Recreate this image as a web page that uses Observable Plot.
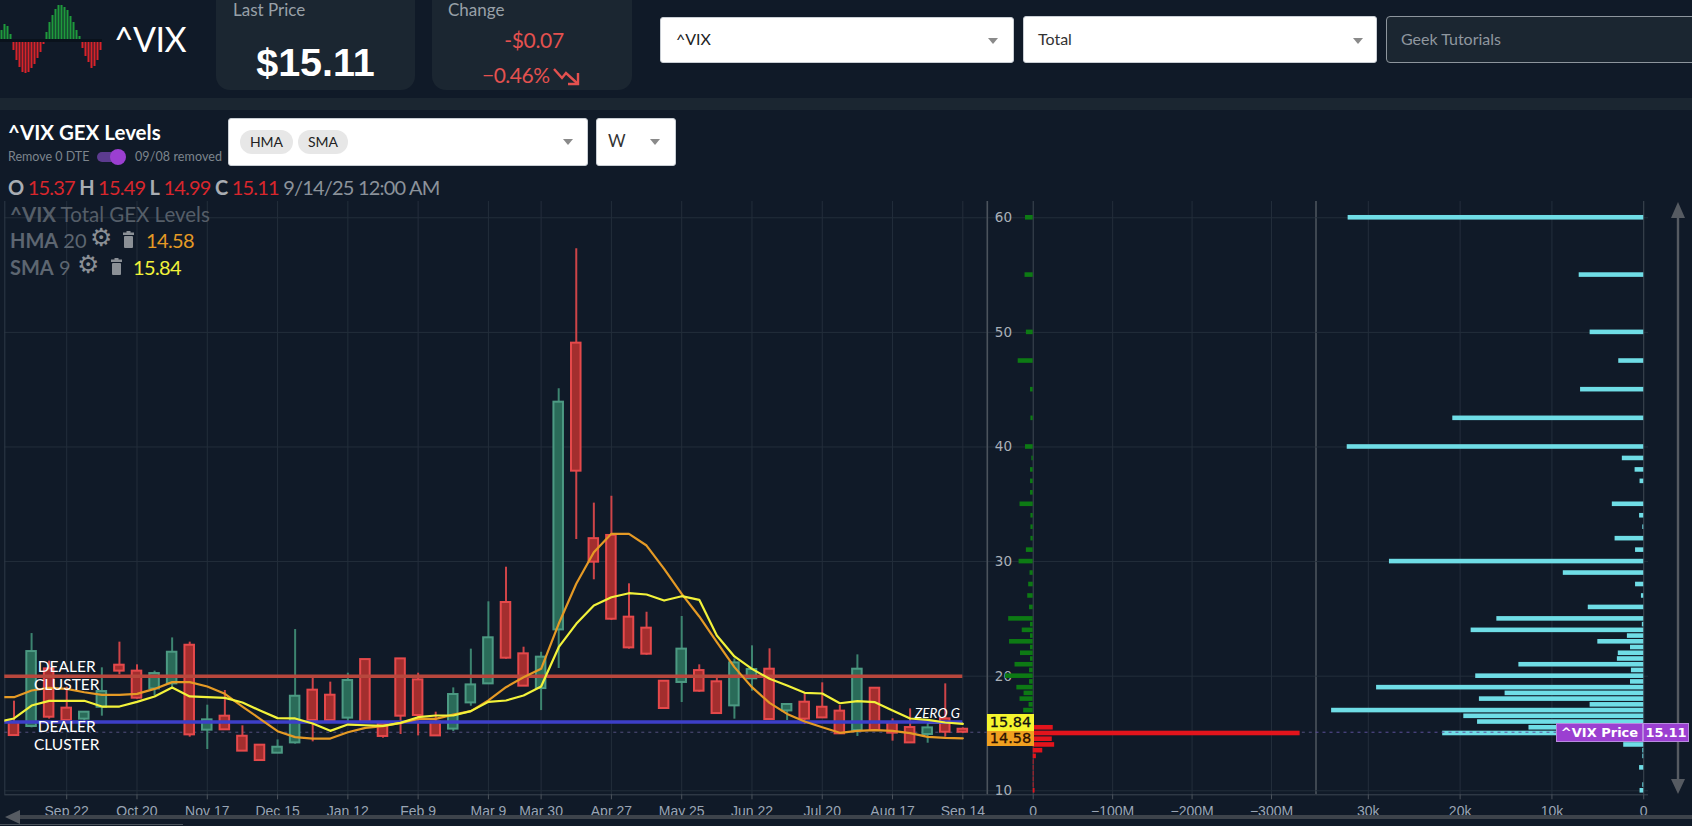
<!DOCTYPE html>
<html>
<head>
<meta charset="utf-8">
<script src="https://cdn.jsdelivr.net/npm/d3@7"></script>
<script src="https://cdn.jsdelivr.net/npm/@observablehq/plot@0.6"></script>
<style>
html,body{margin:0;padding:0;background:#101a28;width:1692px;height:826px;overflow:hidden;font-family:Lato,sans-serif;}
#stage{position:relative;width:1692px;height:826px;overflow:hidden;background:#101a28;}
.a{position:absolute;white-space:nowrap;}
.card{background:#1b2631;border-radius:0 0 14px 14px;}
.sel{background:#fff;border-radius:3px;border:1px solid #c9ced4;box-sizing:border-box;color:#222;}
.tri{position:absolute;width:0;height:0;border-left:5px solid transparent;border-right:5px solid transparent;border-top:6px solid #8a8a8a;}
.pill{position:absolute;background:#e7e7e7;border-radius:12px;color:#222;font-size:14px;text-align:center;}
.chart{position:absolute;top:190px;}
.chart svg{display:block;overflow:visible;}
.ohlcL{color:#a9adb3;font-weight:700;}
.ohlcV{color:#d8262c;}
.badge{position:absolute;font-family:"DejaVu Sans",sans-serif;text-align:center;box-sizing:border-box;}
</style>
</head>
<body>
<div id="stage"></div>
<script>
// ---- chart data ----
const firstWeek = "2024-08-25";
const xTickDates = ["2024-09-22","2024-10-20","2024-11-17","2024-12-15","2025-01-12","2025-02-09","2025-03-09","2025-03-30","2025-04-27","2025-05-25","2025-06-22","2025-07-20","2025-08-17","2025-09-14"];
const opens  = [15.96,15.61,20.64,17.21,16.25,17.29,20.96,20.44,18.89,19.33,22.7,15.29,16.51,14.76,13.98,13.28,14.18,18.78,18.34,16.34,21.45,15.84,21.51,19.68,15.99,15.38,17.67,19.33,26.43,21.95,18.92,24.04,49.06,32.0,32.28,25.15,24.19,19.56,19.45,20.49,19.51,17.41,19.77,20.61,16.97,17.73,17.29,16.95,15.26,18.95,15.9,15.52,14.91,16.28,15.37];
const highs  = [17.82,23.72,21.31,19.04,16.86,20.73,22.97,20.99,20.44,23.34,22.97,17.47,18.75,15.67,13.98,14.44,24.07,19.91,19.48,20.26,21.45,15.99,21.51,20.26,16.86,18.98,22.36,26.49,29.51,22.53,22.09,45.08,57.3,35.1,35.7,28.06,25.58,19.56,25.21,20.99,19.91,21.51,22.65,22.39,17.53,18.46,19.42,17.44,21.86,18.95,16.28,17.15,15.84,19.33,15.49];
const lows   = [14.82,15.49,16.25,15.99,15.99,16.51,20.12,17.99,18.31,18.89,14.68,13.6,15.32,13.46,12.64,13.28,14.07,14.27,15.99,15.99,15.99,14.59,14.91,14.79,14.79,15.17,17.38,19.33,21.48,19.13,17.0,20.67,31.93,28.41,24.86,22.36,21.83,17.18,17.7,18.6,16.66,16.25,18.69,16.22,16.13,15.78,16.36,14.97,14.74,15.26,14.33,14.18,14.15,14.68,14.99];
const closes = [14.82,22.15,16.42,16.13,16.86,18.66,20.44,18.08,20.23,22.09,14.88,16.19,15.32,13.46,12.64,13.8,18.25,16.13,16.13,19.62,15.99,14.74,16.51,16.57,14.79,18.4,19.24,23.35,21.57,19.13,21.66,43.91,37.89,29.95,24.97,22.47,21.92,17.18,22.36,18.69,16.74,21.16,20.58,16.22,17.53,16.25,16.36,14.97,20.61,15.26,15.03,14.18,15.49,15.11,15.11];
const sma9   = [15.99,16.31,17.44,17.85,17.85,17.85,17.35,17.35,17.76,18.23,19.01,18.23,18.17,18.11,17.70,17.0,16.34,16.31,15.87,15.23,15.78,15.72,15.67,15.93,16.42,16.57,16.57,16.95,17.76,17.88,18.31,19.10,22.53,24.57,26.17,26.89,27.24,27.13,26.60,26.98,26.66,23.55,21.72,20.64,19.77,19.19,18.55,18.49,17.64,17.82,17.73,17.0,16.31,16.19,15.96,15.84];
const hma20  = [18.17,18.17,18.75,18.98,18.89,18.60,18.37,18.37,18.46,18.89,19.48,19.48,19.10,18.46,17.35,16.28,15.20,14.68,14.56,14.56,15.11,15.49,15.64,15.93,16.28,16.28,16.65,16.95,17.88,19.04,19.91,20.64,24.57,28.06,30.82,32.42,32.42,31.4,29.37,27.18,25.21,22.97,20.79,19.04,17.67,16.71,16.04,15.55,15.06,15.23,15.29,15.23,15.03,14.71,14.62,14.58];

const levelValues = [20, 16];
const levelColors = ["#b8473d", "#3d3fc9"];
const lastPrice = 15.11;
const smaLast = 15.84;
const hmaLast = 14.58;
const yTicks = [10,20,30,40,50,60];

const gexStrikes = [60,55,50,47.5,45,42.5,40,39,38,37,36,35,34,33,32,31,30,29,28,27,26,25,24.5,24,23.5,23,22.5,22,21.5,21,20.5,20,19.5,19,18.5,18,17.5,17,15.5,15,14.5,14,13.5,13,12.5,12,11.5,11,10.5,10];
const gexValues  = [9.7,10.3,8.6,18.9,3.4,2.9,9.7,1.7,3.4,3.4,3.4,16.6,2.9,2.9,2.9,8.6,17.8,4,5.7,6.9,4.6,30.9,3.4,13.8,3.4,29.8,3.4,16,3.4,22.9,4.6,35,4.6,20.6,11.5,16.6,5.2,12,-25.2,-336,-24,-27,-12,-4,-1,-1,-1,-1,-1,-2.3];
const gexTicks   = [0,-100,-200,-300];

const oiStrikes = [60,55,50,47.5,45,42.5,40,39,38,37,35,34,33,32,31,30,29,28,27,26,25,24.5,24,23.5,23,22.5,22,21.5,21,20.5,20,19.5,19,18.5,18,17.5,17,16.5,16,15.5,15,14,13.5,13,12,10.5,10];
const oiValues  = [32.2,7.03,5.84,2.72,6.88,20.8,32.3,2.33,0.94,0.4,3.42,0.45,0.1,3.12,0.89,27.7,8.76,0.89,0.25,6.04,16.0,0.15,18.8,1.78,5.0,1.44,2.77,2.87,13.6,1.34,18.3,1.44,29.1,15.1,17.9,5.84,34.0,19.6,18.1,12.5,21.9,2.18,0.1,0.1,0.45,0.1,0.4];
const oiTicks   = [30,20,10,0];

const logoX   = [0,3,6,9,12,15,18,21,24,27,30,33,36,39,42,45,48,51,54,57,60,63,66,69,72,75,78,81,84,87,90,93,96,99];
const logoAmp = [10,16,14,6,-10,-20,-27,-32,-33,-32,-28,-24,-18,-12,-4,8,18,25,31,35,35,33,30,24,18,10,4,-8,-16,-22,-28,-26,-20,-10];

// ---- palette / frame ----
const grid = "#232e3b", edge = "#4b535c", tick = "#9aa5b4";
const TOP = 190, H = 636;
const yDomain = [9.65, 61.42], marginTop = 11, marginBottom = 31.7;
const stage = document.getElementById("stage");
const d = s => new Date(s + "T00:00:00Z");
const addDays = (t, n) => new Date(+t + n * 864e5);
const baseStyle = {background:"transparent", color:tick, fontFamily:"'Liberation Sans',sans-serif", fontSize:"14px", overflow:"visible"};

const t0 = d(firstWeek);
const candles = opens.map((o,i)=>({date:addDays(t0,7*(i+1)),o,h:highs[i],l:lows[i],c:closes[i],up:closes[i]>=o}));
const smaRows = sma9.map((v,i)=>({date:addDays(t0,7*i),v}));
const hmaRows = hma20.map((v,i)=>({date:addDays(t0,7*i),v}));
const xTicks = xTickDates.map(d);
const lastDate = xTicks[xTicks.length-1];

function place(plot,left){const w=document.createElement("div");w.className="chart";w.style.left=left+"px";w.appendChild(plot);stage.appendChild(w);return plot;}
const fmtDate = d3.utcFormat("%b %-d");

// ---- candlestick panel ----
const xStart = new Date(Date.UTC(2024,7,28,8)), xEnd = new Date(Date.UTC(2025,8,23,18));
const priceChart = Plot.plot({
  width:988, height:H, marginLeft:4.3, marginRight:1.2, marginTop, marginBottom,
  x:{type:"utc",domain:[xStart,xEnd],axis:null},
  y:{domain:yDomain,axis:null},
  style:baseStyle,
  marks:[
    Plot.ruleX(xTicks,{stroke:grid,strokeWidth:1}),
    Plot.ruleY(yTicks,{stroke:grid,strokeWidth:1}),
    Plot.ruleX([xStart],{stroke:"#2e3946"}),
    Plot.ruleY([yDomain[0]],{stroke:"#3c4652"}),
    Plot.axisX({ticks:xTicks,tickFormat:fmtDate,tickSize:5,tickPadding:6,label:null,stroke:"#4b535c",fill:tick}),
    Plot.ruleY([lastPrice],{stroke:"#54507e",strokeWidth:1,strokeDasharray:"3,4"}),
    Plot.ruleX(candles,{x:"date",y1:"l",y2:"h",stroke:c=>c.up?"#3f8a74":"#d8474a",strokeWidth:2,strokeOpacity:.95}),
    Plot.rect(candles,{x1:c=>addDays(c.date,-1.9),x2:c=>addDays(c.date,1.9),y1:"o",y2:"c",fill:c=>c.up?"#2a6b59":"#a32e2e",stroke:c=>c.up?"#4c9a83":"#e5494b",strokeWidth:2}),
    Plot.ruleY([15.93],{x1:addDays(lastDate,-14),x2:lastDate,stroke:"#eef",strokeWidth:1.5}),
    Plot.ruleY(levelValues,{x1:xStart,x2:lastDate,stroke:(v,i)=>levelColors[i],strokeWidth:3.6}),
    Plot.line(hmaRows,{x:"date",y:"v",stroke:"#e59a25",strokeWidth:2.2,clip:true}),
    Plot.line(smaRows,{x:"date",y:"v",stroke:"#f2f23a",strokeWidth:2.2,clip:true}),
    Plot.text(["DEALER\nCLUSTER"],{x:d("2024-09-22"),y:20.06,fill:"#fff",fontFamily:"Lato,sans-serif",fontSize:15.5,lineHeight:1.17}),
    Plot.text(["DEALER\nCLUSTER"],{x:d("2024-09-22"),y:14.82,fill:"#fff",fontFamily:"Lato,sans-serif",fontSize:15.5,lineHeight:1.17}),
    Plot.text(["ZERO G"],{x:lastDate,y:16.77,dx:-3,textAnchor:"end",fill:"#fff",fontFamily:"Lato,sans-serif",fontStyle:"italic",fontSize:13.5})
  ]
});
place(priceChart,0);

// ---- GEX panel ----
const gexRows = gexStrikes.map((s,i)=>({s,v:gexValues[i]}));
const gexChart = Plot.plot({
  width:340, height:H, marginLeft:6.8, marginRight:4.5, marginTop, marginBottom,
  x:{domain:[57.8,-356],axis:null},
  y:{domain:yDomain,axis:null},
  style:baseStyle,
  marks:[
    Plot.ruleX(gexTicks.slice(1),{stroke:grid}),
    Plot.ruleY(yTicks,{stroke:grid}),
    Plot.ruleY([yDomain[0]],{stroke:"#3c4652"}),
    Plot.ruleX([57.8,-356],{stroke:edge,strokeWidth:1.6}),
    Plot.ruleX([0],{stroke:"#3f4954",strokeWidth:1}),
    Plot.axisX({ticks:gexTicks,tickFormat:v=>v===0?"0":"\u2212"+(-v)+"M",tickSize:5,tickPadding:6,label:null,stroke:"#4b535c",fill:tick}),
    Plot.text(yTicks,{x:37.5,y:v=>v,text:v=>String(v),fill:"#a9b0b8",fontSize:13.5,fontFamily:"'DejaVu Sans',sans-serif"}),
    Plot.ruleY([lastPrice],{stroke:"#54507e",strokeDasharray:"3,4"}),
    Plot.rectX(gexRows,{x:"v",y1:r=>r.s-.2,y2:r=>r.s+.2,fill:r=>r.v>0?"#0d7a14":"#e3141c"})
  ]
});
place(gexChart,980);

// ---- open interest panel ----
const oiRows = oiStrikes.map((s,i)=>({s,v:oiValues[i]}));
const oiChart = Plot.plot({
  width:382, height:H, marginLeft:5.5, marginRight:44, marginTop, marginBottom,
  x:{domain:[35.7,-0.52],axis:null},
  y:{domain:yDomain,axis:null},
  style:baseStyle,
  marks:[
    Plot.ruleX(oiTicks.slice(0,3),{stroke:grid}),
    Plot.ruleY(yTicks,{stroke:grid}),
    Plot.ruleY([yDomain[0]],{stroke:"#3c4652"}),
    Plot.ruleX([0],{stroke:"#3f4954"}),
    Plot.axisX({ticks:oiTicks,tickFormat:v=>v===0?"0":v+"k",tickSize:5,tickPadding:6,label:null,stroke:"#4b535c",fill:tick}),
    Plot.rectX(oiRows,{x:"v",y1:r=>r.s-.2,y2:r=>r.s+.2,fill:"#6fdde6"}),
    Plot.ruleY([lastPrice],{stroke:"#5c4f9a",strokeDasharray:"3,4"})
  ]
});
place(oiChart,1310);

// ---- logo ----
const logoRows = logoX.map((x,i)=>({x,a:logoAmp[i]}));
const logo = Plot.plot({width:102,height:80,margin:0,x:{domain:[-1,101],axis:null},y:{domain:[-40,40],axis:null},style:{background:"transparent"},
  marks:[
    Plot.ruleX(logoRows,{x:"x",y1:0,y2:"a",stroke:r=>r.a>0?"#1e9a3c":"#d8232a",strokeWidth:2}),
    Plot.ruleY([0],{stroke:"#0a121c",strokeWidth:3})
  ]});
const logoBox=document.createElement("div");logoBox.className="a";logoBox.style.cssText="left:0;top:0;";logoBox.appendChild(logo);stage.appendChild(logoBox);

// ---- page furniture ----
function add(html){stage.insertAdjacentHTML("beforeend",html);}
const trash = (x,y)=>`<svg class="a" style="left:${x}px;top:${y}px" width="13" height="17"><rect x="1" y="1.5" width="11" height="2.5" fill="#8b9096"/><rect x="4.5" y="0" width="4" height="2" fill="#8b9096"/><rect x="2" y="5" width="9" height="12" rx="1" fill="#8b9096"/></svg>`;
add(`
<div class="a" style="left:114px;top:18px;font-size:34px;font-weight:400;color:#fff;line-height:42px;letter-spacing:-.6px;">^VIX</div>

<div class="a card" style="left:216px;top:0;width:199px;height:90px;"></div>
<div class="a" style="left:233px;top:-1px;font-size:17px;color:#98a0a8;">Last Price</div>
<div class="a" style="left:216px;width:199px;top:38px;text-align:center;font-family:'Liberation Sans',sans-serif;font-weight:700;font-size:39.5px;color:#fff;line-height:48px;">$15.11</div>

<div class="a card" style="left:432px;top:0;width:200px;height:90px;"></div>
<div class="a" style="left:448px;top:-1px;font-size:17px;color:#98a0a8;">Change</div>
<div class="a" style="left:434px;width:200px;top:26px;text-align:center;font-size:21px;color:#e4514f;line-height:28px;letter-spacing:-.3px;">-$0.07</div>
<div class="a" style="left:482px;top:61px;font-size:21px;color:#e4514f;line-height:28px;letter-spacing:-.5px;">\u22120.46%</div>
<svg class="a" style="left:553px;top:66px" width="28" height="20"><polyline points="1,3 9,12 13,7 24,17" fill="none" stroke="#e4514f" stroke-width="2.4"/><polyline points="25,7 25,18 15,18" fill="none" stroke="#e4514f" stroke-width="2.4"/></svg>

<div class="a sel" style="left:660px;top:17px;width:354px;height:46px;"></div>
<div class="a" style="left:676px;top:17px;line-height:44px;font-size:16px;color:#222;">^VIX</div>
<div class="tri" style="left:988px;top:38px;"></div>
<div class="a sel" style="left:1023px;top:16px;width:354px;height:47px;"></div>
<div class="a" style="left:1038px;top:17px;line-height:44px;font-size:16px;color:#333;">Total</div>
<div class="tri" style="left:1353px;top:38px;"></div>
<div class="a" style="left:1386px;top:16px;width:320px;height:47px;background:#1b2631;border:1px solid #8d959d;border-radius:4px;box-sizing:border-box;"></div>
<div class="a" style="left:1401px;top:17px;line-height:44px;font-size:16px;color:#8f979f;">Geek Tutorials</div>

<div class="a" style="left:0;top:98px;width:1692px;height:12px;background:#1b2631;"></div>

<div class="a" style="left:8px;top:119px;font-size:20.5px;font-weight:700;color:#fff;line-height:26px;">^VIX GEX Levels</div>
<div class="a" style="left:8px;top:149px;font-size:12.5px;color:#7d858d;line-height:16px;">Remove 0 DTE</div>
<div class="a" style="left:97px;top:152px;width:28px;height:10px;background:#5c3b8f;border-radius:5px;"></div>
<div class="a" style="left:110px;top:149px;width:16px;height:16px;background:#9b3fd1;border-radius:50%;"></div>
<div class="a" style="left:135px;top:149px;font-size:12.5px;color:#7d858d;line-height:16px;letter-spacing:.1px;">09/08 removed</div>

<div class="a sel" style="left:228px;top:118px;width:360px;height:48px;"></div>
<div class="pill" style="left:240px;top:130px;width:53px;height:24px;line-height:24px;">HMA</div>
<div class="pill" style="left:298px;top:130px;width:50px;height:24px;line-height:24px;">SMA</div>
<div class="tri" style="left:563px;top:139px;"></div>
<div class="a sel" style="left:596px;top:118px;width:80px;height:48px;"></div>
<div class="a" style="left:608px;top:118px;line-height:46px;font-size:17px;color:#333;">W</div>
<div class="tri" style="left:650px;top:139px;"></div>

<div class="a" style="left:8px;top:174px;font-size:20px;line-height:26px;letter-spacing:-.8px;">
<span class="ohlcL">O</span> <span class="ohlcV">15.37</span> <span class="ohlcL">H</span> <span class="ohlcV">15.49</span> <span class="ohlcL">L</span> <span class="ohlcV">14.99</span> <span class="ohlcL">C</span> <span class="ohlcV">15.11</span> <span style="color:#8b929a;">9/14/25 12:00 AM</span></div>

<div class="a" style="left:10px;top:201px;font-size:20.5px;line-height:26px;color:#555e68;"><b>^VIX</b> Total GEX Levels</div>
<div class="a" style="left:10px;top:227px;font-size:20px;line-height:26px;color:#5d6671;"><b>HMA</b> 20</div>
<div class="a" style="left:90px;top:223px;font-size:25px;line-height:30px;color:#8b9096;font-family:'DejaVu Sans',sans-serif;">\u2699</div>
${trash(122,231)}
<div class="a" style="left:146px;top:227px;font-size:20px;line-height:26px;color:#e59a25;letter-spacing:-.6px;">14.58</div>
<div class="a" style="left:10px;top:254px;font-size:20px;line-height:26px;color:#5d6671;"><b>SMA</b> 9</div>
<div class="a" style="left:77px;top:250px;font-size:25px;line-height:30px;color:#8b9096;font-family:'DejaVu Sans',sans-serif;">\u2699</div>
${trash(110,258)}
<div class="a" style="left:133px;top:254px;font-size:20px;line-height:26px;color:#f2f23a;letter-spacing:-.6px;">15.84</div>

<svg class="a" style="left:1668px;top:200px" width="20" height="596"><line x1="10" y1="10" x2="10" y2="585" stroke="#565b62" stroke-width="2.4"/><polygon points="10,2 3,18 17,18" fill="#565b62"/><polygon points="10,594 3,579 17,579" fill="#565b62"/></svg>
<svg class="a" style="left:0;top:806px" width="1692" height="20"><rect x="18" y="9" width="1674" height="4" fill="#3d434b"/><polygon points="5,11 20,4 20,18" fill="#565b62"/><rect x="0" y="18" width="183" height="1" fill="#4b535c"/></svg>
`);

// badges tied to the y scale
const yS = v => TOP + priceChart.scale("y").apply(v);
add(`
<div class="badge" style="left:987px;top:${yS(hmaLast)-7.5}px;width:47px;height:16px;line-height:16px;background:#f0a020;color:#2a1000;font-size:14.5px;-webkit-text-stroke:.3px #2a1000;">14.58</div>
<div class="badge" style="left:987px;top:${yS(smaLast)-9}px;width:47px;height:17px;line-height:17px;background:#f5f52e;color:#111;font-size:14.5px;-webkit-text-stroke:.3px #111;">15.84</div>
<div class="badge" style="left:1556px;top:${yS(lastPrice)-9}px;width:87px;height:19px;line-height:18px;background:#9b3fd1;color:#fff;font-size:13px;font-weight:700;border:1px solid #b98ae0;">^VIX Price</div>
<div class="badge" style="left:1643px;top:${yS(lastPrice)-9}px;width:46px;height:19px;line-height:18px;background:#9b3fd1;color:#fff;font-size:13px;font-weight:700;border:1px solid #b98ae0;">15.11</div>
`);
</script>
</body>
</html>
